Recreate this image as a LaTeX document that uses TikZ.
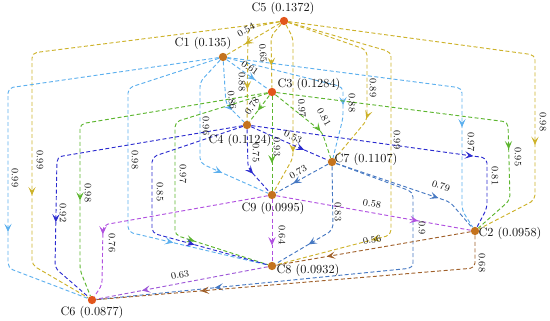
\documentclass[tikz,border=0pt]{standalone}
\usetikzlibrary{arrows.meta,decorations.markings}
\definecolor{LinkGold}{HTML}{CDB22A}
\definecolor{LinkSky}{HTML}{5DB0EE}
\definecolor{LinkGreen}{HTML}{5CB52E}
\definecolor{LinkNavy}{HTML}{2C2CCF}
\definecolor{LinkSteel}{HTML}{4678C2}
\definecolor{LinkViolet}{HTML}{B050E0}
\definecolor{LinkBrown}{HTML}{A0602A}
\definecolor{LinkPurple}{HTML}{9E58D8}
\definecolor{NodeHot}{HTML}{E2561C}
\definecolor{NodeWarm}{HTML}{C4731E}
\definecolor{Ink}{HTML}{111111}

\begin{document}
\begin{tikzpicture}[
    x=0.03cm, y=-0.03cm,
    dot/.style={circle, fill=#1, inner sep=0pt, minimum size=2.5mm},
    cname/.style={font=\fontsize{10.5}{12}\selectfont, text=Ink, inner sep=1pt},
    wlabel/.style={font=\fontsize{8.3}{9}\selectfont, text=Ink, inner sep=0.5pt},
    link/.style={draw=#1, line width=0.8pt, dash pattern=on 3.4pt off 2.1pt,
        rounded corners=1.5mm},
    tipat/.style={postaction={decorate}, decoration={markings,
        mark=at position #1*0.03cm with
        {\arrow{Stealth[length=2.5mm,width=2.2mm,inset=1.1mm]}}}}
]
\useasboundingbox (0,0) rectangle (550,321);

% Clusters
\node[dot=NodeHot]  (c5) at (284,21) {};
\node[dot=NodeWarm] (c1) at (223,57) {};
\node[dot=NodeHot]  (c3) at (272,92) {};
\node[dot=NodeWarm] (c4) at (247,125) {};
\node[dot=NodeWarm] (c7) at (332,162) {};
\node[dot=NodeWarm] (c9) at (272,195) {};
\node[dot=NodeWarm] (c2) at (475,231) {};
\node[dot=NodeWarm] (c8) at (272,266) {};
\node[dot=NodeHot]  (c6) at (92,300) {};

% Links out of C5
\draw[link=LinkGold, tipat=41]  (c5) -- (c1);
\draw[link=LinkGold, tipat=45]  (c5) -- (271,36) -- (c3);
\draw[link=LinkGold, tipat=92]  (c5) -- (248,28) -- (c4);
\draw[link=LinkGold, tipat=129] (c5) -- (293,38) -- (293,158) -- (c9);
\draw[link=LinkGold, tipat=151] (c5) -- (367,50) -- (367,120) -- (c7);
\draw[link=LinkGold, tipat=307] (c5) -- (391,52) -- (391,235) -- (c8);
\draw[link=LinkGold, tipat=337] (c5) -- (535,55) -- (535,200) -- (c2);
\draw[link=LinkGold, tipat=390] (c5) -- (32,53) -- (32,265) -- (c6);

% Links out of C1
\draw[link=LinkSky, tipat=35]  (c1) -- (c3);
\draw[link=LinkSky, tipat=51]  (c1) -- (226,104) -- (c4);
\draw[link=LinkSky, tipat=133] (c1) -- (200,82) -- (200,163) -- (c9);
\draw[link=LinkSky, tipat=283] (c1) -- (128,88) -- (128,232) -- (c8);
\draw[link=LinkSky, tipat=355] (c1) -- (8,88) -- (8,268) -- (c6);
\draw[link=LinkSky, tipat=136] (c1) -- (343,87) -- (343,118) -- (c7);
\draw[link=LinkSky, tipat=274] (c1) -- (462,88) -- (462,210) -- (c2);

% Links out of C3
\draw[link=LinkGreen, tipat=19]  (c3) -- (c4);
\draw[link=LinkGreen, tipat=67]  (c3) -- (c9);
\draw[link=LinkGreen, tipat=58]  (c3) -- (322,132) -- (c7);
\draw[link=LinkGreen, tipat=259] (c3) -- (508,122) -- (510,200) -- (c2);
\draw[link=LinkGreen, tipat=228] (c3) -- (175,122) -- (175,235) -- (c8);
\draw[link=LinkGreen, tipat=265] (c3) -- (80,124) -- (80,270) -- (c6);

% Links out of C4
\draw[link=LinkNavy, tipat=46]  (c4) -- (248,168) -- (c9);
\draw[link=LinkNavy, tipat=58]  (c4) -- (c7);
\draw[link=LinkNavy, tipat=224] (c4) -- (487,158) -- (487,208) -- (c2);
\draw[link=LinkNavy, tipat=252] (c4) -- (57,157) -- (55,268) -- (c6);
\draw[link=LinkNavy, tipat=213] (c4) -- (152,157) -- (152,233) -- (c8);

% Links out of C7
\draw[link=LinkSteel, tipat=40]  (c7) -- (c9);
\draw[link=LinkSteel, tipat=91]  (c7) -- (333,230) -- (c8);
\draw[link=LinkSteel, tipat=108] (c7) -- (450,202) -- (c2);
\draw[link=LinkSteel, tipat=354] (c7) -- (413,192) -- (413,268) -- (c6);

% Links out of C9, C2 and C8
\draw[link=LinkViolet, tipat=46]  (c9) -- (c8);
\draw[link=LinkViolet, tipat=144] (c9) -- (c2);
\draw[link=LinkViolet, tipat=175] (c9) -- (103,225) -- (102,285) -- (c6);
\draw[link=LinkBrown, tipat=146]  (c2) -- (c8);
\draw[link=LinkBrown, tipat=306]  (c2) -- (475,268) -- (c6);
\draw[link=LinkPurple, tipat=128] (c8) -- (c6);

% Weights
\node[wlabel, rotate=30]  (w51) at (246,30) {0.54};
\node[wlabel, rotate=-85] (w53) at (263,53) {0.65};
\node[wlabel, rotate=-90] (w54) at (242,82) {0.88};
\node[wlabel, rotate=-85] (w59) at (302,108) {0.97};
\node[wlabel, rotate=-90] (w57) at (373,88) {0.89};
\node[wlabel, rotate=-90] (w58) at (397,140) {0.99};
\node[wlabel, rotate=-90] (w52) at (543,122) {0.98};
\node[wlabel, rotate=-90] (w56) at (40,160) {0.99};

\node[wlabel, rotate=-35] (w13) at (250,68) {0.61};
\node[wlabel, rotate=-82] (w14) at (232,100) {0.86};
\node[wlabel, rotate=-90] (w19) at (206,126) {0.96};
\node[wlabel, rotate=-90] (w18) at (135,160) {0.98};
\node[wlabel, rotate=-90] (w16) at (15,178) {0.99};
\node[wlabel, rotate=-90] (w17) at (352,103) {0.88};
\node[wlabel, rotate=-90] (w12) at (471,142) {0.97};

\node[wlabel, rotate=55]  (w34) at (252,106) {0.78};
\node[wlabel, rotate=-90] (w39) at (277,147) {0.93};
\node[wlabel, rotate=-60] (w37) at (324,117) {0.81};
\node[wlabel, rotate=-90] (w32) at (518,157) {0.95};
\node[wlabel, rotate=-90] (w38) at (183,174) {0.97};
\node[wlabel, rotate=-90] (w36) at (88,193) {0.98};

\node[wlabel, rotate=-90] (w49) at (256,153) {0.75};
\node[wlabel, rotate=-25] (w47) at (293,137) {0.53};
\node[wlabel, rotate=-90] (w42) at (495,176) {0.81};
\node[wlabel, rotate=-90] (w46) at (63,213) {0.92};
\node[wlabel, rotate=-90] (w48) at (160,192) {0.85};

\node[wlabel, rotate=29]  (w79) at (298,172) {0.73};
\node[wlabel, rotate=-90] (w78) at (338,212) {0.83};
\node[wlabel, rotate=-18] (w72) at (441,186) {0.79};
\node[wlabel, rotate=-90] (w76) at (422,228) {0.9};

\node[wlabel, rotate=-90] (w98) at (282,235) {0.64};
\node[wlabel, rotate=-10] (w92) at (372,204) {0.58};
\node[wlabel, rotate=-90] (w96) at (112,243) {0.76};
\node[wlabel, rotate=10]  (w28) at (372,240) {0.56};
\node[wlabel, rotate=-90] (w26) at (482,263) {0.68};
\node[wlabel, rotate=10]  (w86) at (180,275) {0.63};

% Cluster names
\node[cname] (c5l) at (283,8)   {C5 (0.1372)};
\node[cname] (c1l) at (203,43)  {C1 (0.135)};
\node[cname] (c3l) at (309,84)  {C3 (0.1284)};
\node[cname] (c4l) at (240,140) {C4 (0.1124)};
\node[cname] (c7l) at (366,159) {C7 (0.1107)};
\node[cname] (c9l) at (273,208) {C9 (0.0995)};
\node[cname] (c2l) at (510,233) {C2 (0.0958)};
\node[cname] (c8l) at (308,270) {C8 (0.0932)};
\node[cname] (c6l) at (92,312)  {C6 (0.0877)};

\end{tikzpicture}
\end{document}
